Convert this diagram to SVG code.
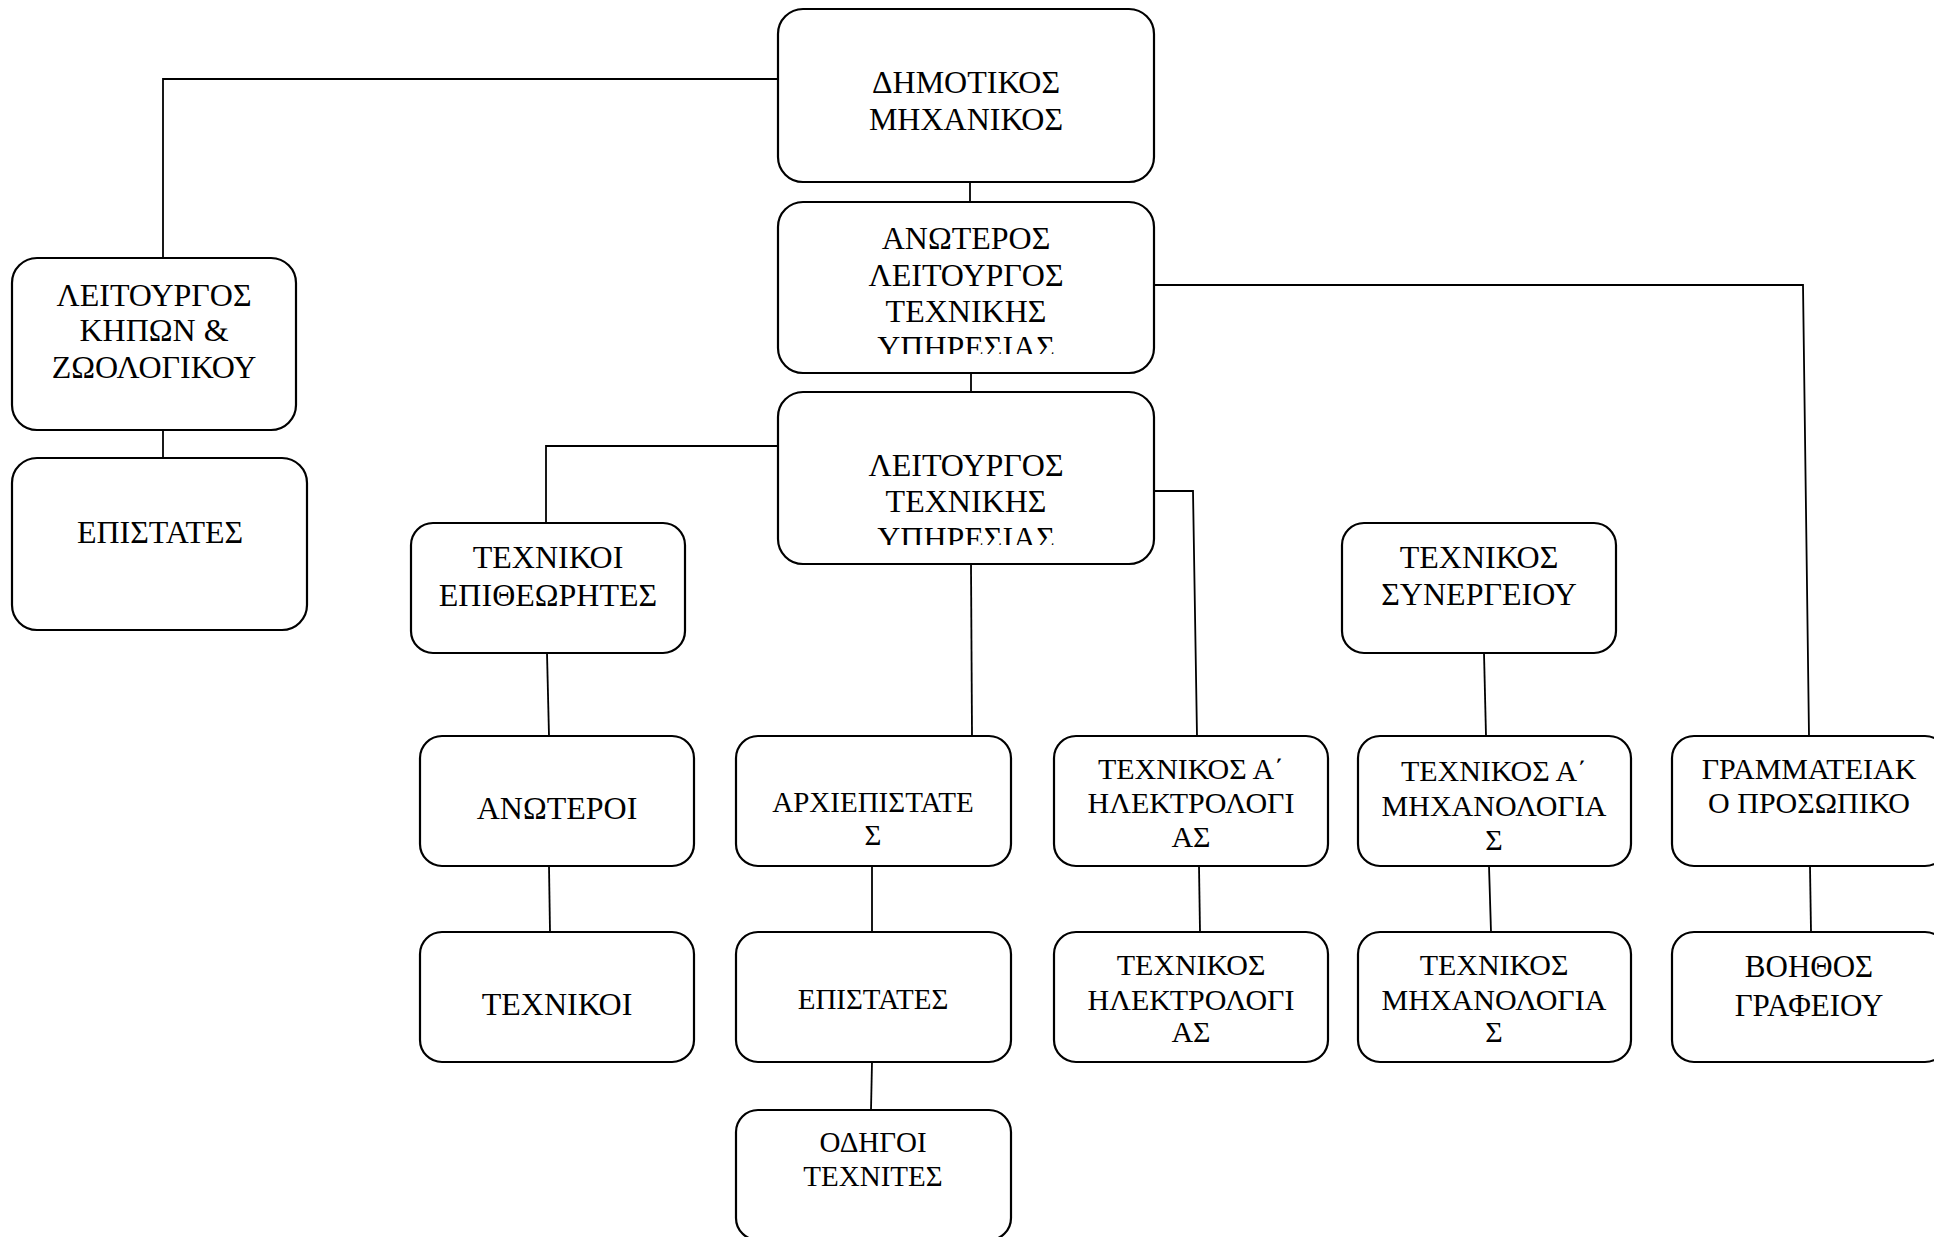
<svg xmlns="http://www.w3.org/2000/svg" width="1934" height="1237" viewBox="0 0 1934 1237">
<style>
.box{fill:#fff;stroke:#000;stroke-width:2.2}
.t{font-family:"Liberation Serif","Times New Roman",serif;fill:#000;text-anchor:middle}
.f32{font-size:32px}
.f30{font-size:30px}
.f29{font-size:29px}
.c{fill:none;stroke:#000;stroke-width:1.8}
</style>
<defs>
<clipPath id="clip2"><rect x="778" y="202" width="376" height="152"/></clipPath>
<clipPath id="clip3"><rect x="778" y="392" width="376" height="153"/></clipPath>
</defs>
<rect width="1934" height="1237" fill="#fff"/>
<g id="connectors">
<polyline class="c" points="778,79 163,79 163,258"/>
<line class="c" x1="970" y1="182" x2="970" y2="202"/>
<line class="c" x1="971" y1="373" x2="971" y2="392"/>
<polyline class="c" points="1154,285 1803,285 1809,736"/>
<line class="c" x1="163" y1="430" x2="163" y2="458"/>
<polyline class="c" points="778,446 546,446 546,523"/>
<polyline class="c" points="1154,491 1193,491 1197,736"/>
<line class="c" x1="971" y1="564" x2="972" y2="736"/>
<line class="c" x1="547" y1="653" x2="549" y2="736"/>
<line class="c" x1="549" y1="866" x2="550" y2="932"/>
<line class="c" x1="872" y1="866" x2="872" y2="932"/>
<line class="c" x1="872" y1="1062" x2="871" y2="1110"/>
<line class="c" x1="1199" y1="866" x2="1200" y2="932"/>
<line class="c" x1="1484" y1="653" x2="1486" y2="736"/>
<line class="c" x1="1489" y1="866" x2="1491" y2="932"/>
<line class="c" x1="1810" y1="866" x2="1811" y2="932"/>
</g>
<g id="n-dimotikos">
<rect class="box" x="778" y="9" width="376" height="173" rx="25"/>
<text class="t f32" x="966" y="93">ΔΗΜΟΤΙΚΟΣ</text>
<text class="t f32" x="966" y="130">ΜΗΧΑΝΙΚΟΣ</text>
</g>
<g id="n-anoteros">
<rect class="box" x="778" y="202" width="376" height="171" rx="25"/>
<g clip-path="url(#clip2)">
<text class="t f32" x="966" y="249">ΑΝΩΤΕΡΟΣ</text>
<text class="t f32" x="966" y="286">ΛΕΙΤΟΥΡΓΟΣ</text>
<text class="t f32" x="966" y="322">ΤΕΧΝΙΚΗΣ</text>
<text class="t f32" x="966" y="358">ΥΠΗΡΕΣΙΑΣ</text>
</g>
</g>
<g id="n-leitourgos-tech">
<rect class="box" x="778" y="392" width="376" height="172" rx="25"/>
<g clip-path="url(#clip3)">
<text class="t f32" x="966" y="476">ΛΕΙΤΟΥΡΓΟΣ</text>
<text class="t f32" x="966" y="512">ΤΕΧΝΙΚΗΣ</text>
<text class="t f32" x="966" y="549">ΥΠΗΡΕΣΙΑΣ</text>
</g>
</g>
<g id="n-kipon">
<rect class="box" x="12" y="258" width="284" height="172" rx="25"/>
<text class="t f32" x="154" y="306">ΛΕΙΤΟΥΡΓΟΣ</text>
<text class="t f32" x="154" y="341">ΚΗΠΩΝ &amp;</text>
<text class="t f32" x="154" y="378">ΖΩΟΛΟΓΙΚΟΥ</text>
</g>
<g id="n-epistates-left">
<rect class="box" x="12" y="458" width="295" height="172" rx="25"/>
<text class="t f32" x="160" y="543">ΕΠΙΣΤΑΤΕΣ</text>
</g>
<g id="n-epitheorites">
<rect class="box" x="411" y="523" width="274" height="130" rx="22"/>
<text class="t f32" x="548" y="568">ΤΕΧΝΙΚΟΙ</text>
<text class="t f32" x="548" y="606">ΕΠΙΘΕΩΡΗΤΕΣ</text>
</g>
<g id="n-synergeiou">
<rect class="box" x="1342" y="523" width="274" height="130" rx="22"/>
<text class="t f32" x="1479" y="568">ΤΕΧΝΙΚΟΣ</text>
<text class="t f32" x="1479" y="605">ΣΥΝΕΡΓΕΙΟΥ</text>
</g>
<g id="n-anoteroi">
<rect class="box" x="420" y="736" width="274" height="130" rx="22"/>
<text class="t f32" x="557" y="819">ΑΝΩΤΕΡΟΙ</text>
</g>
<g id="n-archiepistates">
<rect class="box" x="736" y="736" width="275" height="130" rx="22"/>
<text class="t f29" x="873" y="812">ΑΡΧΙΕΠΙΣΤΑΤΕ</text>
<text class="t f29" x="873" y="845">Σ</text>
</g>
<g id="n-tech-a-ilektr">
<rect class="box" x="1054" y="736" width="274" height="130" rx="22"/>
<text class="t f30" x="1191" y="779">ΤΕΧΝΙΚΟΣ Α΄</text>
<text class="t f30" x="1191" y="813">ΗΛΕΚΤΡΟΛΟΓΙ</text>
<text class="t f30" x="1191" y="847">ΑΣ</text>
</g>
<g id="n-tech-a-michan">
<rect class="box" x="1358" y="736" width="273" height="130" rx="22"/>
<text class="t f30" x="1494" y="781">ΤΕΧΝΙΚΟΣ Α΄</text>
<text class="t f30" x="1494" y="816">ΜΗΧΑΝΟΛΟΓΙΑ</text>
<text class="t f30" x="1494" y="850">Σ</text>
</g>
<g id="n-grammateiako">
<rect class="box" x="1672" y="736" width="275" height="130" rx="22"/>
<text class="t f30" x="1809" y="779">ΓΡΑΜΜΑΤΕΙΑΚ</text>
<text class="t f30" x="1809" y="813">Ο ΠΡΟΣΩΠΙΚΟ</text>
</g>
<g id="n-technikoi">
<rect class="box" x="420" y="932" width="274" height="130" rx="22"/>
<text class="t f32" x="557" y="1015">ΤΕΧΝΙΚΟΙ</text>
</g>
<g id="n-epistates-mid">
<rect class="box" x="736" y="932" width="275" height="130" rx="22"/>
<text class="t f29" x="873" y="1009">ΕΠΙΣΤΑΤΕΣ</text>
</g>
<g id="n-tech-ilektr">
<rect class="box" x="1054" y="932" width="274" height="130" rx="22"/>
<text class="t f30" x="1191" y="975">ΤΕΧΝΙΚΟΣ</text>
<text class="t f30" x="1191" y="1010">ΗΛΕΚΤΡΟΛΟΓΙ</text>
<text class="t f30" x="1191" y="1042">ΑΣ</text>
</g>
<g id="n-tech-michan">
<rect class="box" x="1358" y="932" width="273" height="130" rx="22"/>
<text class="t f30" x="1494" y="975">ΤΕΧΝΙΚΟΣ</text>
<text class="t f30" x="1494" y="1010">ΜΗΧΑΝΟΛΟΓΙΑ</text>
<text class="t f30" x="1494" y="1042">Σ</text>
</g>
<g id="n-voithos">
<rect class="box" x="1672" y="932" width="275" height="130" rx="22"/>
<text class="t f31" x="1809" y="977" font-size="31">ΒΟΗΘΟΣ</text>
<text class="t f31" x="1809" y="1016" font-size="31">ΓΡΑΦΕΙΟΥ</text>
</g>
<g id="n-odigoi">
<rect class="box" x="736" y="1110" width="275" height="130" rx="22"/>
<text class="t f29" x="873" y="1152">ΟΔΗΓΟΙ</text>
<text class="t f29" x="873" y="1186">ΤΕΧΝΙΤΕΣ</text>
</g>
</svg>
